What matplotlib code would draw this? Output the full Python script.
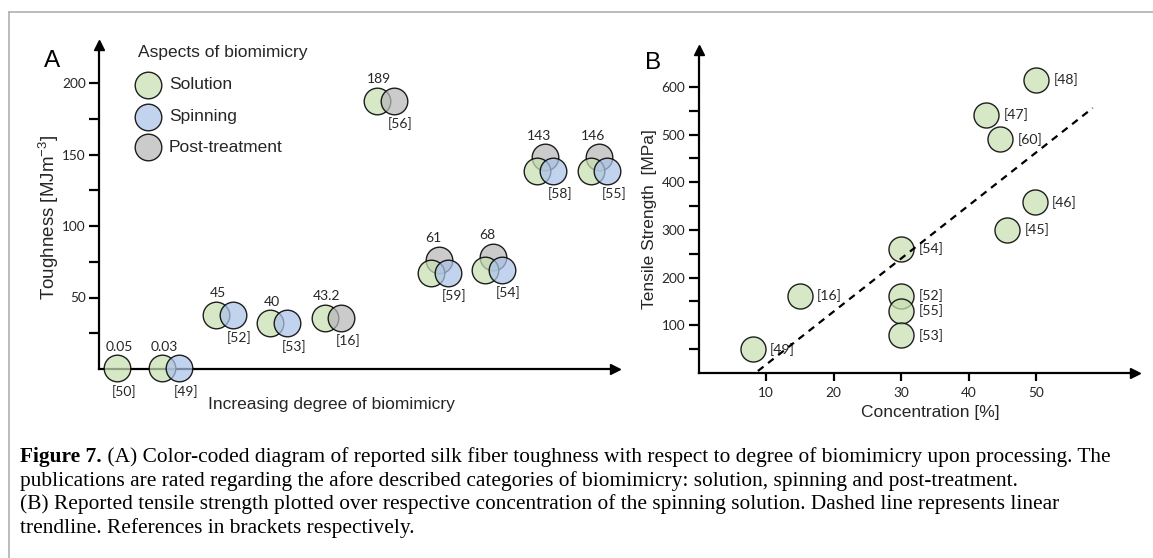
import matplotlib
matplotlib.use('Agg')
import matplotlib.pyplot as plt
import numpy as np
from matplotlib.lines import Line2D

plt.rcParams['font.family'] = ['Liberation Sans', 'DejaVu Sans']
plt.rcParams['mathtext.fontset'] = 'custom'
plt.rcParams['mathtext.rm'] = 'Liberation Sans'
plt.rcParams['mathtext.default'] = 'regular'

# ---- panel A data: toughness vs degree of biomimicry ----
refs_a = ['[50]', '[49]', '[52]', '[53]', '[16]', '[56]', '[59]', '[54]', '[58]', '[55]']
toughness_text = ['0.05', '0.03', '45', '40', '43.2', '189', '61', '68', '143', '146']
degree = [0.33, 1.17, 2.17, 3.17, 4.18, 5.15, 6.15, 7.15, 8.11, 9.11]
circle_y = [0.5, 0.5, 37.8, 32, 35.7, 187.4, 67.1, 69.2, 138.5, 138.5]
# which aspects each publication covers
has_spinning = [0, 1, 1, 1, 0, 0, 1, 1, 1, 1]
has_post = [0, 0, 0, 0, 1, 1, 1, 1, 1, 1]

# ---- panel B data: tensile strength vs concentration ----
refs_b = ['[49]', '[16]', '[54]', '[52]', '[55]', '[53]', '[47]', '[60]', '[45]', '[46]', '[48]']
concentration = [8, 15, 30, 30, 30, 30, 42.6, 44.7, 45.7, 49.8, 50]
strength = [50, 162, 260, 162, 131, 79, 542, 490, 300, 358, 615]
trend_x = [8.8, 58.4]

W, H = 1153, 558
fig = plt.figure(figsize=(W / 100, H / 100), dpi=100)


def box(l, t, r, b):
    return [l / W, 1 - b / H, (r - l) / W, (b - t) / H]


def frac(x, y):
    return x / W, 1 - y / H


GREEN = (0.78, 0.88, 0.69, 0.72)
BLUE = (0.67, 0.76, 0.91, 0.72)
GRAY = (0.72, 0.72, 0.72, 0.72)
EDGE = (0.03, 0.03, 0.03, 0.9)
TXT = '#262626'
S_A = 367
S_B = 325


def style_axes(ax):
    for s in ['top', 'right']:
        ax.spines[s].set_visible(False)
    for s in ['left', 'bottom']:
        ax.spines[s].set_linewidth(1.6)
    ax.plot(1, 0, '>k', ms=7, transform=ax.transAxes, clip_on=False)
    ax.plot(0, 1, '^k', ms=7, transform=ax.transAxes, clip_on=False)
    ax.tick_params(width=1.6, length=7.5, pad=2, colors='k', labelcolor=TXT, labelsize=9.8)


# ================= panel A =================
axA = fig.add_axes(box(99, 45, 615, 369))
axA.set_xlim(0, 516 / 54)
axA.set_ylim(0, 324 / 1.43)
style_axes(axA)
axA.set_xticks([])
axA.set_yticks([50, 100, 150, 200])
axA.set_yticks([25, 75, 125, 175], minor=True)
axA.tick_params(axis='y', which='minor', width=1.6, length=7.5)
for lab in axA.get_yticklabels():
    lab.set_fontfamily('Lato')

dx2 = 0.305   # horizontal offset of the second circle
dx3 = 0.155   # offset of the raised post-treatment circle
dy3 = 9.45

for i in range(len(refs_a)):
    x, y = degree[i], circle_y[i]
    axA.scatter([x], [y], s=S_A, fc=GREEN, ec=EDGE, lw=1.0, zorder=3, clip_on=False)
    right_x = x
    top_y = y
    if has_spinning[i]:
        axA.scatter([x + dx2], [y], s=S_A, fc=BLUE, ec=EDGE, lw=1.0, zorder=4, clip_on=False)
        right_x = x + dx2
        if has_post[i]:
            axA.scatter([x + dx3], [y + dy3], s=S_A, fc=GRAY, ec=EDGE, lw=1.0, zorder=2, clip_on=False)
            top_y = y + dy3
    elif has_post[i]:
        axA.scatter([x + dx2], [y], s=S_A, fc=GRAY, ec=EDGE, lw=1.0, zorder=4, clip_on=False)
        right_x = x + dx2
    axA.annotate(toughness_text[i], (x, top_y), xytext=(1.5, 15.5), textcoords='offset points',
                 ha='center', va='center', fontsize=10, family='Lato', color=TXT)
    axA.annotate(refs_a[i], (right_x, y), xytext=(5, -16.5), textcoords='offset points',
                 ha='center', va='center', fontsize=10, family='Lato', color=TXT)

axA.set_ylabel('Toughness [MJm$^{-3}$]', fontsize=13.5, color=TXT)
axA.yaxis.set_label_coords(-0.097, 0.469)
axA.yaxis.label.set_va('center')
axA.set_xlabel('Increasing degree of biomimicry', fontsize=12.5, color=TXT)
axA.xaxis.set_label_coords(0.4506, -0.111)
axA.xaxis.label.set_va('center')

# legend
leg_items = [('Solution', GREEN), ('Spinning', BLUE), ('Post-treatment', GRAY)]
fig.text(*frac(138, 53), 'Aspects of biomimicry', fontsize=12.5, va='center', color=TXT)
for k, (name, col) in enumerate(leg_items):
    ly = [85, 117, 147][k]
    fig.add_artist(Line2D([148 / W], [1 - ly / H], marker='o', ms=np.sqrt(S_A), mfc=col,
                          mec=EDGE, mew=1.0, ls='none'))
    fig.text(*frac(169, ly), name, fontsize=12.5, va='center', color=TXT)

fig.text(*frac(44, 61), 'A', fontsize=17.5, va='center', color='k')

# ================= panel B =================
axB = fig.add_axes(box(698.5, 50, 1135, 373))
axB.set_xlim(0, 436.5 / 6.75)
axB.set_ylim(0, 323 / 0.4767)
style_axes(axB)
axB.set_xticks([10, 20, 30, 40, 50])
axB.set_yticks([100, 200, 300, 400, 500, 600])
axB.set_yticks([50, 150, 250, 350, 450, 550], minor=True)
axB.tick_params(axis='y', which='minor', width=1.6, length=7.5)
axB.tick_params(axis='x', length=6, pad=4)
for lab in axB.get_yticklabels() + axB.get_xticklabels():
    lab.set_fontfamily('Lato')

axB.scatter(concentration, strength, s=S_B, fc=GREEN, ec=EDGE, lw=1.0, zorder=3, clip_on=False)
for cx, sy, r in zip(concentration, strength, refs_b):
    axB.annotate(r, (cx, sy), xytext=(12.5, 0), textcoords='offset points',
                 ha='left', va='center', fontsize=10.2, family='Lato', color=TXT)

coef = np.polyfit(concentration, strength, 1)
tx = np.array(trend_x)
axB.plot(tx, np.polyval(coef, tx), color='k', lw=1.6, ls=(0, (3.2, 2.6)), zorder=5)

axB.set_ylabel('Tensile Strength  [MPa]', fontsize=12.5, color=TXT)
axB.yaxis.set_label_coords(-0.112, 0.477)
axB.yaxis.label.set_va('center')
axB.set_xlabel('Concentration [%]', fontsize=12.5, color=TXT)
axB.xaxis.set_label_coords(0.531, -0.121)
axB.xaxis.label.set_va('center')

fig.text(*frac(645, 63), 'B', fontsize=17.5, va='center', color='k')

# ================= frame =================
fig.add_artist(Line2D([9 / W, 1], [1 - 12 / H] * 2, color='#b0b0b0', lw=1.2))
fig.add_artist(Line2D([9 / W] * 2, [0, 1 - 12 / H], color='#b0b0b0', lw=1.2))

# ================= caption =================
cap_lines = [
    ' (A) Color-coded diagram of reported silk fiber toughness with respect to degree of biomimicry upon processing. The',
    'publications are rated regarding the afore described categories of biomimicry: solution, spinning and post-treatment.',
    '(B) Reported tensile strength plotted over respective concentration of the spinning solution. Dashed line represents linear',
    'trendline. References in brackets respectively.',
]
cap_y = [457, 481, 504, 528]
renderer = fig.canvas.get_renderer()


def draw_caption(size):
    arts = []
    tb = fig.text(*frac(20, cap_y[0]), 'Figure 7.', family='Liberation Serif', fontweight='bold',
                  fontsize=size, va='center', color='k')
    arts.append(tb)
    x1 = tb.get_window_extent(renderer).x1
    t1 = fig.text(x1 / W, 1 - cap_y[0] / H, cap_lines[0], family='Liberation Serif',
                  fontsize=size, va='center', color='k')
    arts.append(t1)
    for ln, yy in zip(cap_lines[1:], cap_y[1:]):
        arts.append(fig.text(*frac(20, yy), ln, family='Liberation Serif', fontsize=size,
                             va='center', color='k'))
    return arts, t1.get_window_extent(renderer).x1


arts, end = draw_caption(14)
size = 14 * (1113 - 20) / (end - 20)
for a in arts:
    a.remove()
draw_caption(size)

fig.savefig('out.png', dpi=100)
